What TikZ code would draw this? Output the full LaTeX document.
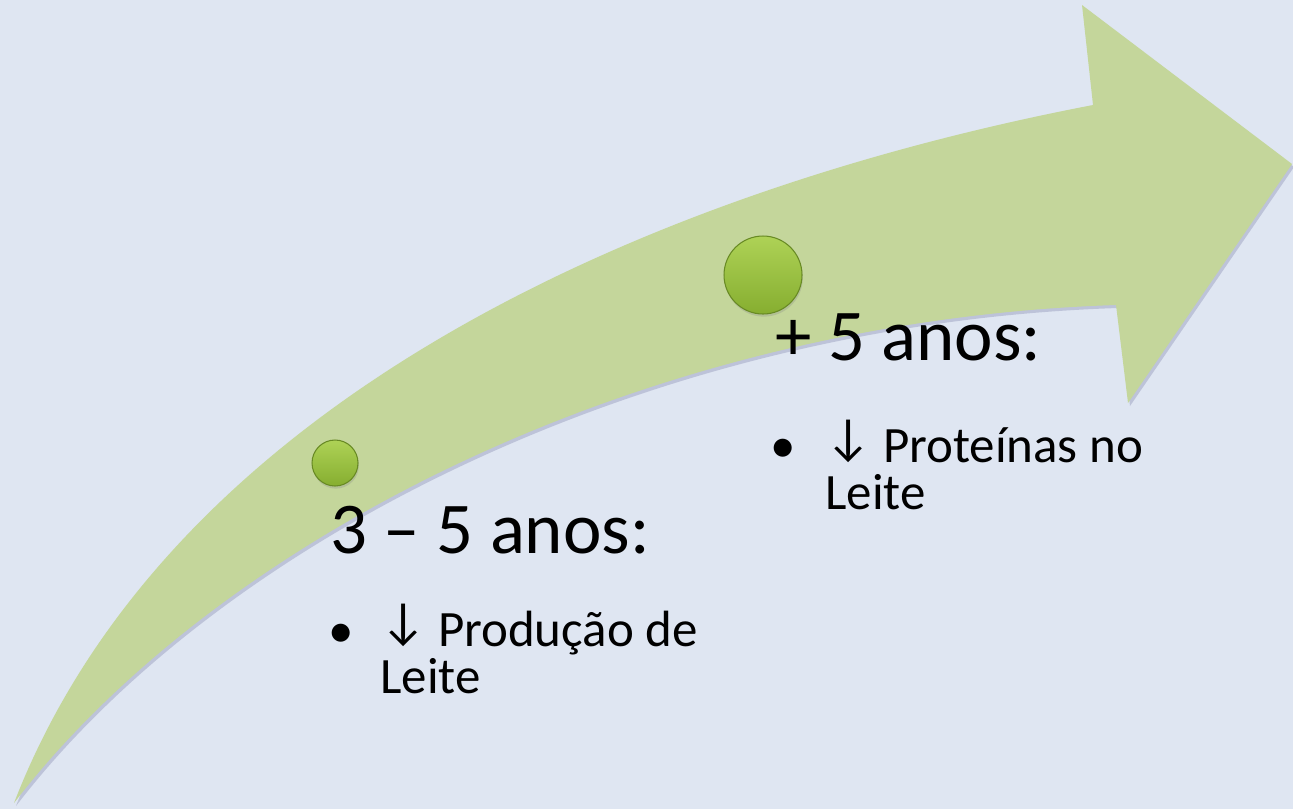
\documentclass[tikz,border=0pt]{standalone}
\usepackage{fontspec}
\setmainfont{Carlito}
\usepackage{tikz}
\usetikzlibrary{shadows}
\definecolor{slidebg}{RGB}{223,230,242}
\definecolor{arrowgreen}{RGB}{196,214,155}
\definecolor{beadhi}{RGB}{174,210,86}
\definecolor{beadlo}{RGB}{134,174,48}
\definecolor{beadrim}{RGB}{104,138,36}
\newcommand{\arrowoutline}{%
  (14,803) .. controls (170,400) and (650,190) .. (1093,105)
  -- (1082,5) -- (1292,164) -- (1128,403) -- (1116,305)
  .. controls (650,320) and (220,535) .. (14,803) -- cycle}
\newcommand{\lessarrow}{\raisebox{0.17em}{↓}}

\begin{document}
\begin{tikzpicture}[x=0.02cm, y=-0.02cm,
  headline/.style={font=\fontsize{41.5pt}{50pt}\selectfont, anchor=base west, inner sep=0pt},
  itemtext/.style={font=\fontsize{29pt}{26.2pt}\selectfont, align=left, anchor=base west, inner sep=0pt},
  bead/.style={circle, inner sep=0pt, top color=beadhi, bottom color=beadlo, draw=beadrim, line width=0.6pt,
    drop shadow={opacity=0.25, shadow xshift=0.5pt, shadow yshift=-1.5pt}}]
  % ================================================================
  % background
  % ================================================================
  \fill[slidebg] (0,0) rectangle (1293,809);
  \useasboundingbox (0,0) rectangle (1293,809);
  % curved arrow ---------------------------------------------------
  \begin{scope}[shift={(2,3)}]
    \fill[black!70!blue, opacity=0.15] \arrowoutline;
  \end{scope}
  \fill[arrowgreen] \arrowoutline;
  % beads on the arrow ---------------------------------------------
  \node[bead, minimum size=0.92cm] (bead1) at (335,463) {};
  \node[bead, minimum size=1.56cm] (bead2) at (763,275) {};
  % first stage (multi-line node: base = last line) ------------------
  \node[headline] (stage1) at (330,553) {3 – 5 anos:};
  \node[itemtext] (dot1) at (328,647) {•};
  \node[itemtext] (item1) at (380,693) {\lessarrow\ Produção de\\Leite};
  % second stage ---------------------------------------------------
  \node[headline] (stage2) at (775,360) {+ 5 anos:};
  \node[itemtext] (dot2) at (770,462) {•};
  \node[itemtext] (item2) at (825,509) {\lessarrow\ Proteínas no\\Leite};
\end{tikzpicture}
\end{document}
